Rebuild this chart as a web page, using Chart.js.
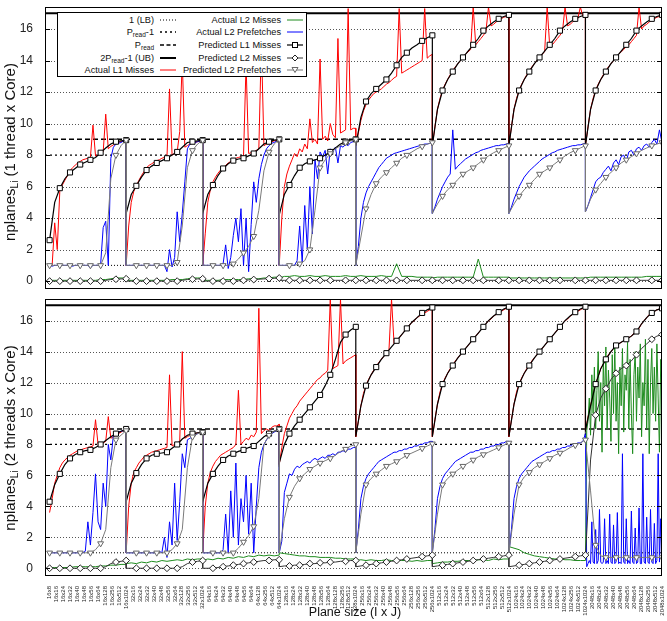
<!DOCTYPE html>
<html><head><meta charset="utf-8">
<script src="https://cdn.jsdelivr.net/npm/chart.js@4.4.1/dist/chart.umd.min.js"></script>
<style>
body{margin:0;background:#fff;width:667px;height:621px;overflow:hidden;position:relative;font-family:"Liberation Sans",Arial,sans-serif;color:#111;}
canvas{position:absolute;left:0;}
#c1{top:0;}
#c2{top:294px;}
.yt{position:absolute;font-size:15px;white-space:nowrap;transform:translate(-50%,-50%) rotate(-90deg);}
.yt sub{font-size:10px;vertical-align:-3px;}
#xt{position:absolute;left:355px;top:612px;transform:translate(-50%,-50%);font-size:12.5px;white-space:nowrap;}
#legend{position:absolute;left:57px;top:12px;width:248px;height:63px;border:1px solid #000;background:#fff;font-size:9.2px;}
.lab{position:absolute;white-space:nowrap;line-height:10px;text-align:right;}
.lab sub{font-size:6.5px;vertical-align:-2px;}
.smp{position:absolute;}
</style>
</head><body>
<canvas id="c1" width="667" height="294"></canvas>
<canvas id="c2" width="667" height="327"></canvas>
<div class="yt" style="left:10px;top:152px;">nplanes<sub>Li</sub> (1 thread x Core)</div>
<div class="yt" style="left:10px;top:438px;">nplanes<sub>Li</sub> (2 threads x Core)</div>
<div id="xt">Plane size (I x J)</div>
<div id="legend"></div>
<script>
// ---------------- DATA ----------------
const iSizes = [16, 32, 64, 128, 256, 512, 1024, 2048];
const jSizesFirst = [8, 16, 24, 32, 40, 48, 56, 64, 128, 256, 512, 1024];
const jSizes = [16, 24, 32, 40, 48, 56, 64, 128, 256, 512, 1024];

const lowerBound = 1;
const pReadMinus1 = 8;
const pRead = 9;
const upperBound = 17;

// ---- 1 thread x core ----
const l1Actual1T = [
 [1.0,1.0,3.7,2.0,5.7,6.1,6.4,6.7,7.0,7.2,7.35,7.5,7.6,7.7,7.75,7.8,7.85,9.9,7.95,8.0,8.1,8.2,10.6,8.4,8.55,8.65,8.75,8.8,8.85,8.9,8.95],
 [1.0,3.5,5.0,5.7,6.05,6.4,6.7,6.95,7.2,7.35,7.45,7.55,7.65,7.7,7.8,7.85,7.9,12.2,8.0,8.1,8.2,9.5,14.0,8.5,8.6,8.7,8.75,8.8,8.85,8.9,8.95],
 [1.0,3.0,5.0,5.8,6.3,6.6,6.85,7.05,7.2,7.35,7.5,7.6,7.7,7.8,7.85,7.9,7.95,13.8,8.1,8.15,8.2,8.3,8.4,15.2,8.6,8.7,8.8,8.85,8.9,8.95,9.0],
 [1.0,4.0,6.0,6.8,7.3,7.7,8.1,7.9,8.4,8.2,8.7,8.4,10.3,8.8,9.0,8.7,14.1,9.0,9.2,8.9,10.0,9.3,9.1,15.4,9.4,9.5,9.6,17.3,9.6,9.7,9.7],
 [8.6,9.4,10.2,10.8,11.2,11.5,11.7,11.9,12.0,12.1,12.2,12.35,12.5,12.6,12.75,12.9,13.0,17.3,13.2,13.3,13.4,13.5,13.6,13.7,13.8,13.9,14.0,17.3,14.15,14.3,14.4],
 [8.6,9.8,10.9,11.6,12.1,12.5,12.8,13.1,13.35,13.6,13.8,14.0,14.2,14.4,14.55,14.7,17.4,15.0,15.2,15.4,15.6,15.85,17.4,16.2,16.3,16.45,16.55,16.65,16.75,16.8,16.9],
 [8.6,9.8,10.9,11.6,12.1,12.5,12.8,13.1,13.35,13.6,13.8,14.0,14.2,14.4,14.55,17.4,14.9,15.0,15.2,15.4,15.6,15.85,17.4,16.2,16.3,16.45,16.55,16.65,17.4,16.8,16.9],
 [8.6,9.8,10.9,11.6,12.1,12.5,12.8,13.1,13.35,13.6,13.8,14.0,14.2,14.4,14.55,14.7,14.9,15.0,15.2,15.4,15.6,17.4,16.0,16.2,16.3,16.45,16.55,16.65,16.75,16.8,16.9]
];
const l2PfActual1T = [
 [1.0,0.95,1.0,1.0,0.95,1.0,1.0,1.0,1.0,0.95,1.0,1.0,1.0,1.0,1.0,1.0,0.85,1.0,1.0,1.0,1.05,3.4,3.8,1.0,7.8,8.5,8.7,8.75,8.8,8.9,8.95],
 [1.0,1.0,1.0,1.0,1.0,1.0,1.0,1.0,1.0,1.0,1.0,1.0,1.0,1.0,1.0,1.0,0.6,2.0,0.9,1.5,4.4,2.5,4.3,6.3,8.4,8.7,8.75,8.8,8.85,8.9,8.95],
 [1.0,1.0,1.0,1.0,1.0,1.0,1.0,1.0,1.1,2.3,0.8,1.5,2.9,4.0,2.5,4.6,1.0,4.0,0.6,3.6,6.3,5.0,6.5,7.4,8.0,8.4,8.6,8.75,8.8,8.9,9.0],
 [1.0,1.0,1.0,1.0,1.0,1.0,1.0,1.3,3.5,1.2,4.8,2.0,6.0,3.0,7.7,6.5,8.2,7.9,8.3,6.8,8.4,8.2,8.5,7.5,8.6,8.5,8.7,8.6,8.8,8.85,8.95],
 [1.0,2.2,4.0,5.0,5.6,6.0,6.3,6.6,6.9,7.2,7.4,7.6,7.8,7.9,8.0,8.1,8.15,8.2,8.25,8.3,8.35,8.4,8.45,8.5,8.55,8.6,8.65,8.7,8.7,8.75,8.8],
 [4.3,4.7,5.2,5.6,6.0,6.3,6.6,6.8,9.6,7.1,7.3,7.45,7.6,7.75,7.85,7.95,8.05,8.15,8.2,8.3,8.35,8.4,8.45,8.5,8.55,8.6,8.6,8.65,8.65,8.7,8.75],
 [4.3,4.7,5.2,5.6,6.0,6.3,6.6,6.8,7.0,7.15,7.3,7.45,7.6,7.75,7.85,7.95,8.05,8.15,8.2,8.3,8.35,8.4,8.45,8.5,8.55,8.6,8.6,8.65,8.65,8.7,8.75],
 [4.4,4.8,5.3,5.8,6.3,6.5,6.6,6.9,7.1,7.3,7.0,7.5,7.7,7.4,7.9,8.0,7.6,8.2,8.3,8.0,8.4,8.5,8.3,8.6,8.7,8.5,8.8,9.0,8.7,9.6,8.8]
];
const l2MissActual1T = [
 [0.05,0.05,0.05,0.05,0.05,0.05,0.05,0.05,0.05,0.05,0.1,0.1,0.15,0.2,0.2,0.2],
 [0.05,0.05,0.05,0.05,0.05,0.05,0.05,0.05,0.05,0.1,0.1,0.1,0.15,0.2,0.2,0.2],
 [0.05,0.05,0.05,0.05,0.1,0.1,0.1,0.1,0.1,0.15,0.15,0.15,0.2,0.2,0.25,0.25],
 [0.2,0.3,0.3,0.35,0.3,0.3,0.35,0.3,0.3,0.35,0.3,0.3,0.3,0.35,0.3,0.3],
 [0.3,0.35,0.3,0.3,0.3,0.35,0.3,0.3,1.1,0.3,0.3,0.3,0.25,0.25,0.25,0.25],
 [0.2,0.25,0.25,0.25,0.25,0.25,0.25,0.25,0.25,1.4,0.25,0.25,0.25,0.25,0.25,0.25],
 [0.2,0.2,0.2,0.2,0.2,0.2,0.2,0.2,0.2,0.2,0.2,0.2,0.2,0.2,0.2,0.2],
 [0.2,0.25,0.25,0.25,0.25,0.25,0.25,0.25,0.25,0.25,0.25,0.25,0.3,0.3,0.3,0.3]
];
const l1Pred1T = [
 [2.6,5.0,5.9,6.5,6.9,7.15,7.4,7.55,7.7,7.85,8.15,8.45,8.7,8.85,8.9,8.95],
 [4.3,5.5,6.05,6.6,7.05,7.3,7.5,7.65,7.8,8.0,8.2,8.5,8.8,8.85,8.9,8.95],
 [4.3,5.5,6.1,6.7,7.15,7.45,7.65,7.75,7.8,7.95,8.1,8.4,8.7,8.85,8.95,9.0],
 [4.2,5.5,6.1,6.7,7.2,7.45,7.6,7.7,7.8,8.0,8.2,8.45,8.7,8.85,8.95,9.0],
 [8.6,10.4,11.4,11.9,12.2,12.5,12.8,13.2,13.7,14.2,14.5,14.8,15.0,15.25,15.45,15.6],
 [8.6,10.9,12.1,12.8,13.3,13.8,14.2,14.6,15.0,15.4,15.9,16.2,16.45,16.65,16.8,16.9],
 [8.6,10.9,12.1,12.8,13.3,13.8,14.2,14.6,15.0,15.4,15.9,16.2,16.45,16.65,16.8,16.9],
 [8.6,10.9,12.1,12.8,13.3,13.8,14.2,14.6,15.0,15.4,15.9,16.2,16.45,16.65,16.8,16.9]
];
const l2MissPred1T = [
 [0,0,0,0,0,0,0,0,0,0,0,0.05,0.1,0.12,0.14,0.15],
 [0,0,0,0,0,0,0,0,0,0,0,0.05,0.1,0.12,0.14,0.15],
 [0,0,0,0,0,0,0,0.02,0.05,0.08,0.1,0.12,0.14,0.16,0.18,0.2],
 [0.05,0.05,0.05,0.05,0.05,0.05,0.05,0.05,0.05,0.05,0.05,0.05,0.05,0.05,0.05,0.05],
 [0.05,0.05,0.05,0.05,0.05,0.05,0.05,0.05,0.05,0.05,0.05,0.05,0.05,0.05,0.05,0.05],
 [0.05,0.05,0.05,0.05,0.05,0.05,0.05,0.05,0.05,0.05,0.05,0.05,0.05,0.05,0.05,0.05],
 [0.05,0.05,0.05,0.05,0.05,0.05,0.05,0.05,0.05,0.05,0.05,0.05,0.05,0.05,0.05,0.05],
 [0.05,0.05,0.05,0.05,0.05,0.05,0.05,0.05,0.05,0.05,0.05,0.05,0.05,0.05,0.05,0.05]
];
const l2PfPred1T = [
 [1,1,1,1,1,1,1,1,1,1,1.0,1.8,6.5,8.0,8.6,8.95],
 [1,1,1,1,1,1,1,1,1,1,1.2,3.5,7.2,8.3,8.7,8.95],
 [1,1,1,1,1,1,1.1,1.4,1.8,2.2,2.85,4.5,7.0,8.2,8.7,9.0],
 [1,1,1,1,1.1,1.3,2.0,4.5,7.2,7.7,8.1,8.4,8.6,8.8,8.9,9.0],
 [1.0,2.8,4.6,5.5,6.2,6.6,6.9,7.2,7.5,7.8,8.0,8.2,8.4,8.55,8.7,8.8],
 [4.3,4.9,5.4,5.8,6.1,6.45,6.8,7.0,7.2,7.45,7.7,7.95,8.15,8.3,8.45,8.6],
 [4.3,4.9,5.4,5.8,6.1,6.45,6.8,7.0,7.2,7.45,7.7,7.95,8.15,8.3,8.45,8.6],
 [4.4,5.2,5.8,6.2,6.6,6.9,7.2,7.5,7.7,7.9,8.1,8.3,8.45,8.6,8.7,8.8]
];

// ---- 2 threads x core ----
const l1Actual2T = [
 [3.6,4.5,5.5,6.0,6.5,6.8,7.0,7.15,7.3,7.4,7.5,7.6,7.65,7.7,7.75,7.8,7.85,7.9,9.6,8.0,8.05,8.1,8.2,9.8,8.4,8.5,8.6,8.7,8.8,8.9,9.0],
 [1.0,4.0,5.5,6.2,6.5,6.8,7.0,7.2,7.3,7.4,7.5,7.55,7.6,7.65,7.7,7.75,7.8,12.5,7.9,8.0,8.1,8.2,14.0,8.4,8.5,8.6,8.65,8.7,8.75,8.8,8.9],
 [1.0,4.0,5.5,6.2,6.6,6.9,7.1,7.3,7.4,7.5,7.6,7.7,7.8,8.0,11.5,8.0,8.2,8.4,8.3,8.6,8.5,8.8,16.8,8.7,8.9,9.0,8.9,9.1,9.2,9.2,9.3],
 [6.7,7.8,8.7,9.2,9.7,10.0,10.3,10.5,10.8,11.0,11.2,11.4,11.6,11.8,12.0,12.2,12.3,12.5,12.6,12.8,17.4,12.9,13.0,13.1,17.4,13.2,13.4,13.5,13.6,13.7,13.8],
 [8.5,9.5,10.5,11.3,11.8,12.2,12.5,12.8,13.0,13.3,13.5,13.7,13.9,14.1,17.4,14.5,14.7,14.9,15.1,15.3,15.5,15.7,15.9,16.0,16.2,16.3,16.4,16.5,16.6,16.7,16.8],
 [8.5,9.6,10.6,11.4,11.9,12.3,12.6,12.9,13.1,13.4,13.6,13.8,14.0,14.2,14.4,14.6,14.8,15.0,15.2,15.4,15.6,15.8,16.0,16.1,16.3,16.4,16.5,16.6,16.7,16.8,16.9],
 [8.5,9.6,10.6,11.4,11.9,12.3,12.6,12.9,13.1,13.4,13.6,13.8,14.0,14.2,14.4,14.6,14.8,15.0,15.2,15.4,15.6,15.8,16.0,16.1,16.3,16.4,16.5,16.6,16.7,16.8,16.9],
 [8.9,9.8,10.5,11.3,11.9,12.4,12.9,13.2,13.5,13.8,14.0,14.2,14.4,14.5,14.6,14.7,14.8,14.9,15.0,15.2,15.3,15.5,15.8,16.0,16.2,16.4,16.5,16.6,16.7,16.75,16.8]
];
const l2PfActual2T = [
 [1,1,1,1,1,1,1,1,1,1,1,1,1,1,1.1,3.0,1.5,3.6,6.1,3.0,2.5,5.5,4.0,8.0,7.0,8.6,8.7,8.8,8.85,8.9,9.0],
 [1,1,1,1,1,1,1,1,1,1,1,1,1,1.1,1.0,2.0,0.7,3.0,1.5,5.5,1.8,4.3,7.4,6.5,8.3,8.4,8.5,8.6,8.7,8.8,8.85],
 [1,1,1,1,1,1,1,1,1.2,3.5,1.0,5.0,2.0,6.8,1.5,4.5,3.0,6.0,2.2,5.5,1.0,4.0,6.5,7.5,8.0,8.3,8.5,8.7,8.8,8.9,9.0],
 [1.0,1.75,4.9,5.5,6.1,6.0,6.4,6.6,6.5,6.7,6.8,6.9,6.8,7.0,7.1,7.0,7.1,7.2,7.1,7.3,7.3,7.4,7.3,7.5,7.5,7.6,7.5,7.7,7.7,7.8,7.8],
 [1.0,2.5,4.5,5.3,5.8,6.1,6.3,6.5,6.7,6.9,7.0,7.1,7.2,7.3,7.4,7.5,7.5,7.6,7.6,7.7,7.7,7.8,7.8,7.9,7.9,8.0,8.0,8.1,8.1,8.2,8.2],
 [1.0,2.5,4.5,5.3,5.8,6.1,6.3,6.5,6.7,6.9,7.0,7.1,7.2,7.3,7.4,7.5,7.5,7.6,7.6,7.7,7.7,7.8,7.8,7.9,7.9,8.0,8.0,8.1,8.1,8.2,8.2],
 [1.0,2.5,4.5,5.3,5.8,6.1,6.3,6.5,6.7,6.9,7.0,7.1,7.2,7.3,7.4,7.5,7.5,7.6,7.6,7.7,7.7,7.8,7.8,7.9,7.9,8.0,8.0,8.1,8.1,8.2,8.7],
 [8.6,0.1,0.3,0.5,0.3,3.0,0.4,0.3,2.5,0.3,0.5,3.8,0.4,0.3,0.4,3.2,0.3,0.5,0.3,3.5,0.4,0.3,2.8,0.3,0.4,3.6,0.3,0.4,0.3,7.4,0.4,0.3,3.2,0.3,0.5,0.3,3.7,0.4,0.3,2.6,0.3,0.4,3.9,0.3,0.3,7.4,0.4,0.3,3.3,0.4,0.3,3.8,0.4,0.3,2.9,0.3,0.5,7.4,0.4,3.2,0.4]
];
const l2MissActual2T = [
 [0.05,0.05,0.05,0.05,0.05,0.1,0.1,0.1,0.1,0.1,0.15,0.15,0.2,0.2,0.25,0.25],
 [0.3,0.35,0.3,0.4,0.35,0.45,0.4,0.5,0.45,0.5,0.55,0.5,0.6,0.55,0.6,0.6],
 [0.5,0.6,0.55,0.65,0.6,0.7,0.65,0.75,0.7,0.8,0.75,0.85,0.8,0.85,0.8,0.85],
 [1.0,0.95,0.9,0.85,0.8,0.8,0.75,0.75,0.7,0.7,0.7,0.65,0.65,0.6,0.6,0.6],
 [0.5,0.55,0.5,0.55,0.5,0.5,0.55,0.5,0.5,0.5,0.5,0.45,0.5,0.45,0.5,0.5],
 [0.3,0.35,0.4,0.4,0.45,0.45,0.5,0.5,0.5,0.55,0.55,0.5,0.6,0.55,0.6,0.6],
 [1.4,1.3,1.2,1.0,0.9,0.8,0.75,0.7,0.65,0.6,0.6,0.55,0.55,0.5,0.5,0.5],
 [0.5,8.9,9.5,11.0,8.6,12.5,10.0,13.0,9.0,11.5,14.0,9.5,12.0,7.5,13.5,10.5,14.3,9.0,12.8,11.0,8.2,13.8,10.0,14.5,9.5,12.0,7.4,13.0,10.5,14.2,8.8,12.5,11.5,14.6,9.0,13.5,10.0,7.4,12.5,14.0,9.5,13.0,11.0,14.5,8.5,12.0,10.5,14.8,9.0,13.5,7.4,12.0,14.2,10.0,13.0,9.5,14.5,11.0,7.5,13.5,12.0]
];
const l1Pred2T = [
 [4.3,5.4,6.1,6.7,7.1,7.35,7.5,7.6,7.65,7.8,8.0,8.25,8.5,8.7,8.85,9.0],
 [4.3,5.5,6.15,6.7,7.1,7.3,7.4,7.45,7.5,7.75,8.0,8.35,8.6,8.7,8.75,8.8],
 [4.3,5.5,6.1,6.6,7.0,7.25,7.4,7.55,7.65,7.8,7.9,8.2,8.5,8.7,8.85,9.0],
 [6.8,8.0,8.7,9.2,9.6,10.0,10.4,10.8,11.2,11.8,12.5,13.5,14.6,15.1,15.4,15.6],
 [8.5,10.5,11.8,12.5,13.0,13.5,13.9,14.3,14.7,15.1,15.5,15.9,16.2,16.5,16.7,16.85],
 [8.5,10.6,11.9,12.6,13.1,13.6,14.0,14.4,14.8,15.2,15.6,16.0,16.3,16.55,16.75,16.9],
 [8.5,10.6,11.9,12.6,13.1,13.6,14.0,14.4,14.8,15.2,15.6,16.0,16.3,16.55,16.75,16.9],
 [8.9,10.5,11.9,12.9,13.5,14.0,14.4,14.6,14.8,15.0,15.3,15.8,16.2,16.5,16.7,16.8]
];
const l2MissPred2T = [
 [0,0,0,0,0,0,0,0,0,0,0,0.1,0.3,0.4,0.45,0.5],
 [0,0,0,0,0,0,0,0,0,0,0,0.1,0.3,0.4,0.45,0.5],
 [0,0,0,0.05,0.1,0.15,0.2,0.25,0.3,0.35,0.4,0.45,0.5,0.5,0.55,0.55],
 [0.1,0.15,0.15,0.2,0.2,0.25,0.3,0.3,0.35,0.35,0.4,0.4,0.45,0.45,0.5,0.5],
 [0.1,0.15,0.2,0.25,0.3,0.35,0.4,0.45,0.5,0.55,0.6,0.65,0.7,0.75,0.8,0.85],
 [0.1,0.15,0.2,0.25,0.3,0.35,0.4,0.45,0.5,0.55,0.6,0.65,0.7,0.75,0.8,0.85],
 [0.1,0.15,0.2,0.25,0.3,0.35,0.4,0.45,0.5,0.55,0.6,0.65,0.7,0.75,0.8,0.85],
 [0.7,7.0,9.9,11.0,11.6,12.2,12.6,12.9,13.1,13.4,13.8,14.2,14.5,14.8,15.0,15.1]
];
const l2PfPred2T = [
 [1,1,1,1,1,1,1,1,1.0,1.2,1.6,2.5,6.5,8.3,8.6,8.9],
 [1,1,1,1,1,1,1,1,1.0,1.2,1.6,2.5,6.5,8.5,8.7,8.8],
 [1,1,1,1,1,1,1.0,1.3,1.7,2.1,2.7,4.5,8.0,8.6,8.85,9.0],
 [1.0,3.2,4.6,5.3,5.8,6.1,6.4,6.6,6.8,6.95,7.1,7.3,7.55,7.7,7.9,8.0],
 [1.0,3.5,5.4,5.8,6.1,6.35,6.6,6.75,6.9,7.1,7.3,7.45,7.6,7.75,7.9,8.05],
 [1.0,3.5,5.4,5.8,6.1,6.35,6.6,6.8,7.0,7.2,7.35,7.5,7.65,7.8,7.95,8.1],
 [1.0,3.5,5.4,5.9,6.2,6.5,6.7,6.9,7.1,7.3,7.45,7.6,7.8,7.95,8.1,8.3],
 [8.3,5.0,1.5,0.8,0.7,0.7,0.7,0.7,0.7,0.7,0.7,0.7,0.7,0.7,0.7,0.7]
];

// ---------------- BUILD ----------------
const GW = 15; // x-units per I group
const markerIdx = [2, 4, 6, 8, 10, 13, 15];
function series(groups, withMarkers) {
  const pts = [];
  groups.forEach((arr, g) => {
    const n = arr.length;
    arr.forEach((v, k) => {
      const p = { x: GW * g + GW * k / (n - 1), y: v };
      if (withMarkers && (markerIdx.includes(k) || (g === 0 && k === 0))) p.m = true;
      pts.push(p);
    });
  });
  return pts;
}
const tickLabels = [];
const tickVals = [];
iSizes.forEach((I, g) => {
  const js = g === 0 ? jSizesFirst : jSizes;
  js.forEach((J, k) => {
    tickLabels.push(I + 'x' + J);
    tickVals.push(g === 0 ? GW * k / 11 : GW * g + GW * (k + 1) / 11);
  });
});
const XMIN = -0.9, XMAX = 120;
const hline = v => [{ x: XMIN, y: v }, { x: XMAX, y: v }];
const gridVals = [0, 2, 4, 6, 10, 12, 14, 16];

const panelPlugin = {
  id: 'panel',
  beforeDatasetsDraw(chart) {
    const { ctx, chartArea: a, scales: { y } } = chart;
    ctx.save();
    ctx.strokeStyle = '#555'; ctx.lineWidth = 1; ctx.setLineDash([1, 2]);
    gridVals.forEach(v => {
      const py = Math.round(y.getPixelForValue(v)) + 0.5;
      ctx.beginPath(); ctx.moveTo(a.left, py); ctx.lineTo(a.right, py); ctx.stroke();
    });
    ctx.restore();
  },
  afterDraw(chart) {
    const { ctx, chartArea: a, scales: { y } } = chart;
    ctx.save();
    ctx.strokeStyle = '#000'; ctx.lineWidth = 1;
    ctx.strokeRect(a.left + 0.5, a.top + 0.5, a.right - a.left - 1, a.bottom - a.top - 1);
    for (let v = 0; v <= 16; v += 2) {
      const py = Math.round(y.getPixelForValue(v)) + 0.5;
      ctx.beginPath(); ctx.moveTo(a.left, py); ctx.lineTo(a.left + 5, py);
      ctx.moveTo(a.right - 5, py); ctx.lineTo(a.right, py); ctx.stroke();
    }
    ctx.restore();
  }
};

const mk = (ctx) => (ctx.raw && ctx.raw.m ? 3.4 : 0);
function datasets(l1a, l2ma, l2pa, l1p, l2mp, l2pp) {
  return [
    { label: 'Predicted L2 Prefetches', data: series(l2pp, true), borderColor: '#7a7a7a', borderWidth: 1,
      pointStyle: 'triangle', rotation: 180, pointRadius: mk, pointBackgroundColor: '#fff', pointBorderColor: '#666', pointBorderWidth: 1 },
    { label: 'Predicted L2 Misses', data: series(l2mp, true), borderColor: '#333', borderWidth: 1,
      pointStyle: 'rectRot', pointRadius: mk, pointBackgroundColor: '#fff', pointBorderColor: '#222', pointBorderWidth: 1 },
    { label: 'Predicted L1 Misses', data: series(l1p, true), borderColor: '#000', borderWidth: 1.2,
      pointStyle: 'rect', pointRadius: (c) => (c.raw && c.raw.m ? 3.6 : 0), pointBackgroundColor: '#fff', pointBorderColor: '#000', pointBorderWidth: 1 },
    { label: 'Actual L2 Prefetches', data: series(l2pa, false), borderColor: '#0000ff', borderWidth: 1, pointRadius: 0 },
    { label: 'Actual L2 Misses', data: series(l2ma, false), borderColor: '#1e8c1e', borderWidth: 1, pointRadius: 0 },
    { label: 'Actual L1 Misses', data: series(l1a, false), borderColor: '#ff0000', borderWidth: 1, pointRadius: 0 },
    { label: '2Pread-1 (UB)', data: hline(upperBound), borderColor: '#000', borderWidth: 2, pointRadius: 0 },
    { label: 'Pread', data: hline(pRead), borderColor: '#000', borderWidth: 1.5, borderDash: [5, 3], pointRadius: 0 },
    { label: 'Pread-1', data: hline(pReadMinus1), borderColor: '#000', borderWidth: 1.3, borderDash: [2, 3], pointRadius: 0 },
    { label: '1 (LB)', data: hline(lowerBound), borderColor: '#000', borderWidth: 1, borderDash: [1, 2], pointRadius: 0 }
  ];
}

function makeChart(id, ds, showX, pad) {
  return new Chart(document.getElementById(id), {
    type: 'line',
    data: { datasets: ds },
    options: {
      responsive: false, animation: false, events: [],
      layout: { padding: pad },
      plugins: { legend: { display: false }, tooltip: { enabled: false } },
      elements: { line: { tension: 0 } },
      scales: {
        x: {
          type: 'linear', min: XMIN, max: XMAX, display: showX,
          grid: { display: false }, border: { display: false },
          afterBuildTicks: s => { s.ticks = tickVals.map(v => ({ value: v })); },
          afterFit: s => { if (showX) s.height = 45; s.paddingLeft = 0; s.paddingRight = 0; },
          ticks: {
            autoSkip: false, minRotation: 90, maxRotation: 90, padding: 2,
            font: { size: 6, family: 'Liberation Sans' }, color: '#222',
            callback: (v, i) => tickLabels[i]
          }
        },
        y: {
          type: 'linear', min: -0.5, max: 17.4,
          grid: { display: false }, border: { display: false },
          afterBuildTicks: s => { s.ticks = [0, 2, 4, 6, 8, 10, 12, 14, 16].map(v => ({ value: v })); },
          afterFit: s => { s.width = 45; s.paddingTop = 0; s.paddingBottom = 0; },
          ticks: { padding: 4, font: { size: 12, family: 'Liberation Sans' }, color: '#222' }
        }
      }
    },
    plugins: [panelPlugin]
  });
}

makeChart('c1', datasets(l1Actual1T, l2MissActual1T, l2PfActual1T, l1Pred1T, l2MissPred1T, l2PfPred1T), false, { left: 0, right: 1, top: 7, bottom: 2 });
makeChart('c2', datasets(l1Actual2T, l2MissActual2T, l2PfActual2T, l1Pred2T, l2MissPred2T, l2PfPred2T), true, { left: 0, right: 1, top: 2, bottom: 0 });

// ---------------- LEGEND ----------------
const legendLeft = [
  ['1 (LB)', 'lb'], ['P<sub>read</sub>-1', 'pr1'], ['P<sub>read</sub>', 'pr'], ['2P<sub>read</sub>-1 (UB)', 'ub'], ['Actual L1 Misses', 'red']
];
const legendRight = [
  ['Actual L2 Misses', 'green'], ['Actual L2 Prefetches', 'blue'], ['Predicted L1 Misses', 'sq'], ['Predicted L2 Misses', 'dia'], ['Predicted L2 Prefetches', 'tri']
];
function sampleSvg(kind) {
  const line = (c, w, d) => `<line x1="0" y1="5" x2="16" y2="5" stroke="${c}" stroke-width="${w}" ${d ? `stroke-dasharray="${d}"` : ''}/>`;
  let s = '';
  switch (kind) {
    case 'lb': s = line('#000', 1, '1,2'); break;
    case 'pr1': s = line('#000', 1.4, '2,3'); break;
    case 'pr': s = line('#000', 1.6, '4,2.5'); break;
    case 'ub': s = line('#000', 2, ''); break;
    case 'red': s = line('#f00', 1, ''); break;
    case 'green': s = line('#1e8c1e', 1, ''); break;
    case 'blue': s = line('#00f', 1, ''); break;
    case 'sq': s = line('#000', 1.2, '') + '<rect x="5.5" y="2.5" width="5" height="5" fill="#fff" stroke="#000"/>'; break;
    case 'dia': s = line('#333', 1, '') + '<polygon points="8,2 11,5 8,8 5,5" fill="#fff" stroke="#222"/>'; break;
    case 'tri': s = line('#7a7a7a', 1, '') + '<polygon points="5,2.5 11,2.5 8,7.5" fill="#fff" stroke="#666"/>'; break;
  }
  return `<svg width="16" height="10">${s}</svg>`;
}
const lg = document.getElementById('legend');
const rowTops = [2, 14, 27, 40, 52];
legendLeft.forEach((it, r) => {
  lg.insertAdjacentHTML('beforeend', `<div class="lab" style="right:${248 - 96}px;top:${rowTops[r]}px">${it[0]}</div>`);
  lg.insertAdjacentHTML('beforeend', `<div class="smp" style="left:102px;top:${rowTops[r]}px">${sampleSvg(it[1])}</div>`);
});
legendRight.forEach((it, r) => {
  lg.insertAdjacentHTML('beforeend', `<div class="lab" style="right:${248 - 223}px;top:${rowTops[r]}px">${it[0]}</div>`);
  lg.insertAdjacentHTML('beforeend', `<div class="smp" style="left:229px;top:${rowTops[r]}px">${sampleSvg(it[1])}</div>`);
});
</script>
</body></html>
